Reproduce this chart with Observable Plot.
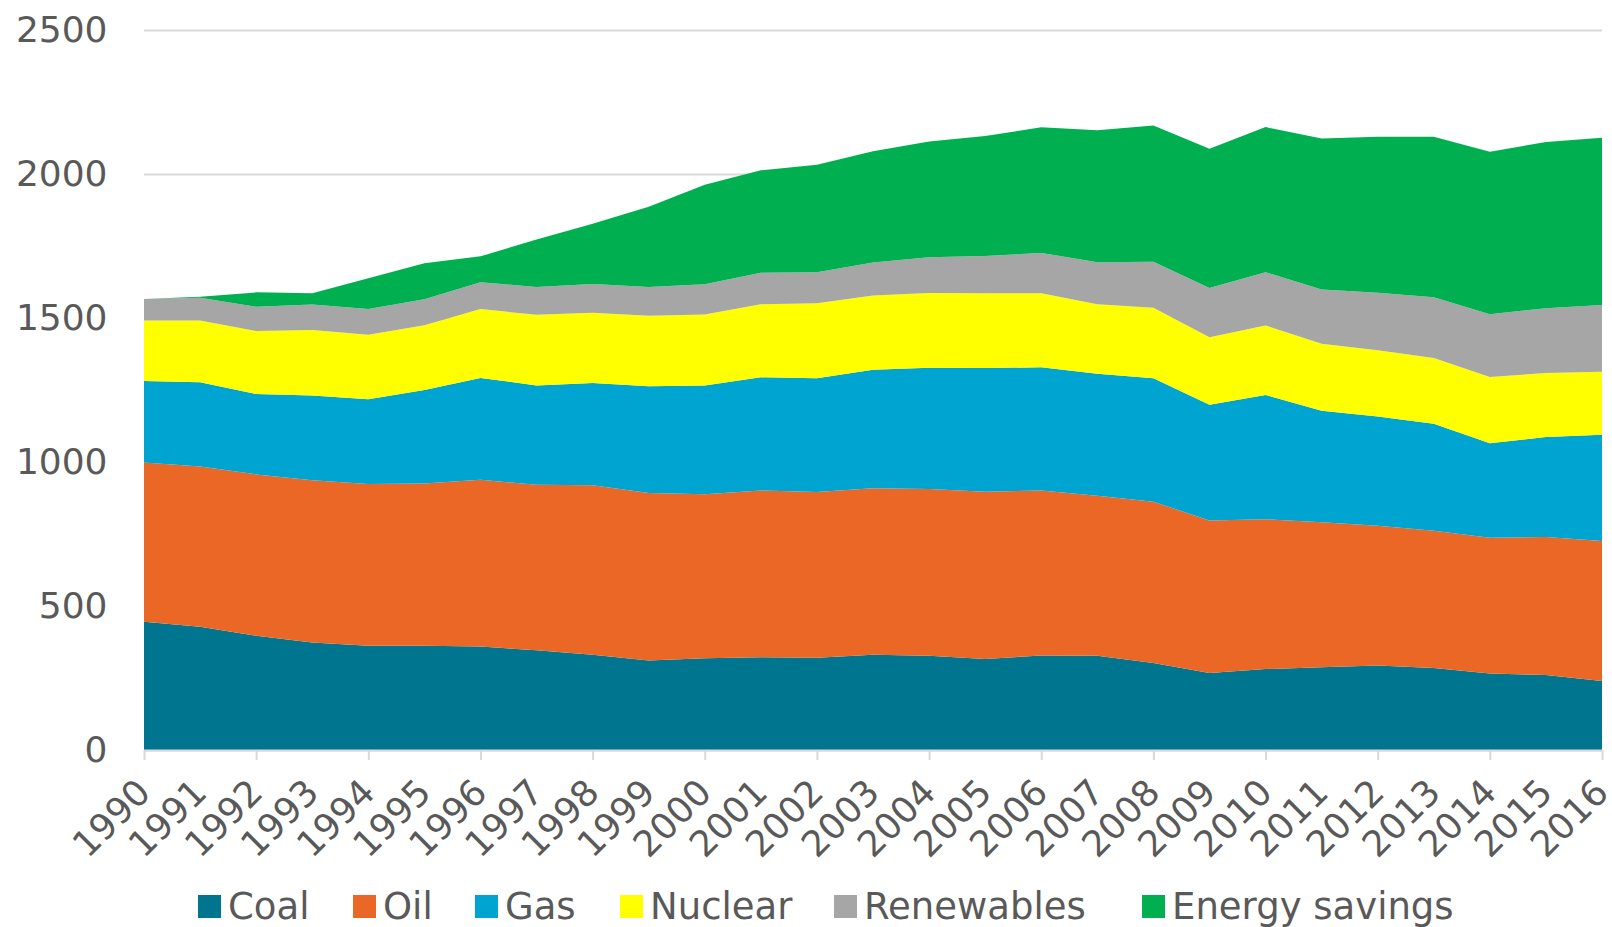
<!DOCTYPE html>
<html><head><meta charset="utf-8">
<script src="https://cdn.jsdelivr.net/npm/d3@7"></script>
<script src="https://cdn.jsdelivr.net/npm/@observablehq/plot@0.6"></script>
<style>
body{margin:0;background:#fff;font-family:"DejaVu Sans",Verdana,sans-serif;}
#wrap{position:relative;width:1612px;height:927px;overflow:hidden;}
#legend{position:absolute;left:0;top:884px;width:1612px;height:44px;font-size:37px;color:#595959;white-space:nowrap;}
.item{position:absolute;top:0;height:44px;display:flex;align-items:center;}
.sw{width:23px;height:23px;margin-right:7px;}
</style></head><body><div id="wrap"><div id="chart"></div><div id="legend"></div></div>
<script>
const years = [1990,1991,1992,1993,1994,1995,1996,1997,1998,1999,2000,2001,2002,2003,2004,2005,2006,2007,2008,2009,2010,2011,2012,2013,2014,2015,2016];
const coal = [445,428,397,373,362,362,359,346,331,311,319,322,320,331,327,316,328,327,302,267,281,287,293,285,266,260,240];
const oil = [553,556,560,564,562,563,579,575,588,581,569,579,576,578,579,581,573,556,560,530,520,504,486,476,471,480,486];
const gas = [283,293,279,294,294,325,354,345,355,371,378,393,395,411,421,429,428,423,429,402,432,387,379,372,328,347,369];
const nuclear = [210,214,219,227,224,225,239,245,244,245,246,254,260,258,260,260,257,242,245,234,241,233,230,228,230,222,218];
const renewables = [75,79,84,89,89,90,93,97,100,100,105,109,108,115,124,129,140,146,159,171,185,188,200,211,218,225,232];
const savings = [0,4,50,39,107,125,90,165,209,278,346,356,373,386,402,417,436,458,473,484,504,524,541,557,564,577,581];
const seriesNames = ["Coal","Oil","Gas","Nuclear","Renewables","Energy savings"];
const seriesColors = ["#00758f","#eb6726","#00a4d1","#ffff00","#a6a6a6","#00b050"];
const yTicks = [0,500,1000,1500,2000,2500];
const tickYears = years.filter(y => (y - 1990) % 2 === 0);

const seriesValues = [coal, oil, gas, nuclear, renewables, savings];
const data = [];
seriesNames.forEach((name, i) => {
  years.forEach((yr, j) => data.push({year: yr, series: name, value: seriesValues[i][j]}));
});

const chart = Plot.plot({
  width: 1612,
  height: 927,
  marginLeft: 144,
  marginRight: 10,
  marginTop: 30,
  marginBottom: 177,
  style: {fontFamily: "DejaVu Sans, Verdana, sans-serif", fontSize: "36px", color: "#595959", background: "transparent"},
  x: {domain: [1990, 2016], axis: null, label: null},
  y: {domain: [0, 2500], axis: null, label: null},
  color: {domain: seriesNames, range: seriesColors},
  marks: [
    Plot.gridY(yTicks, {stroke: "#d9d9d9", strokeOpacity: 1, strokeWidth: 2}),
    Plot.areaY(data, {x: "year", y: "value", z: "series", fill: "series", order: seriesNames}),
    Plot.ruleY([0], {stroke: "#d9d9d9", strokeWidth: 2}),
    Plot.axisX(tickYears, {tickSize: 10, tickFormat: () => "", stroke: "#d9d9d9", strokeWidth: 2, label: null}),
    Plot.text(years, {x: d => d, y: 0, text: d => String(d), textAnchor: "end", lineAnchor: "top", rotate: -45, dx: -10, dy: 26, fill: "#595959", fontSize: 36}),
    Plot.axisY(yTicks, {tickSize: 0, tickPadding: 37, fontSize: 36, fill: "#595959", tickFormat: d => String(d), label: null})
  ]
});
document.getElementById("chart").appendChild(chart);

const legendLefts = [198, 353, 475, 620, 834, 1142];
const legend = document.getElementById("legend");
seriesNames.forEach((name, i) => {
  const it = document.createElement("div");
  it.className = "item";
  it.style.left = legendLefts[i] + "px";
  const sw = document.createElement("div");
  sw.className = "sw";
  sw.style.background = seriesColors[i];
  const tx = document.createElement("span");
  tx.textContent = name;
  it.appendChild(sw); it.appendChild(tx);
  legend.appendChild(it);
});
</script>
</body></html>
